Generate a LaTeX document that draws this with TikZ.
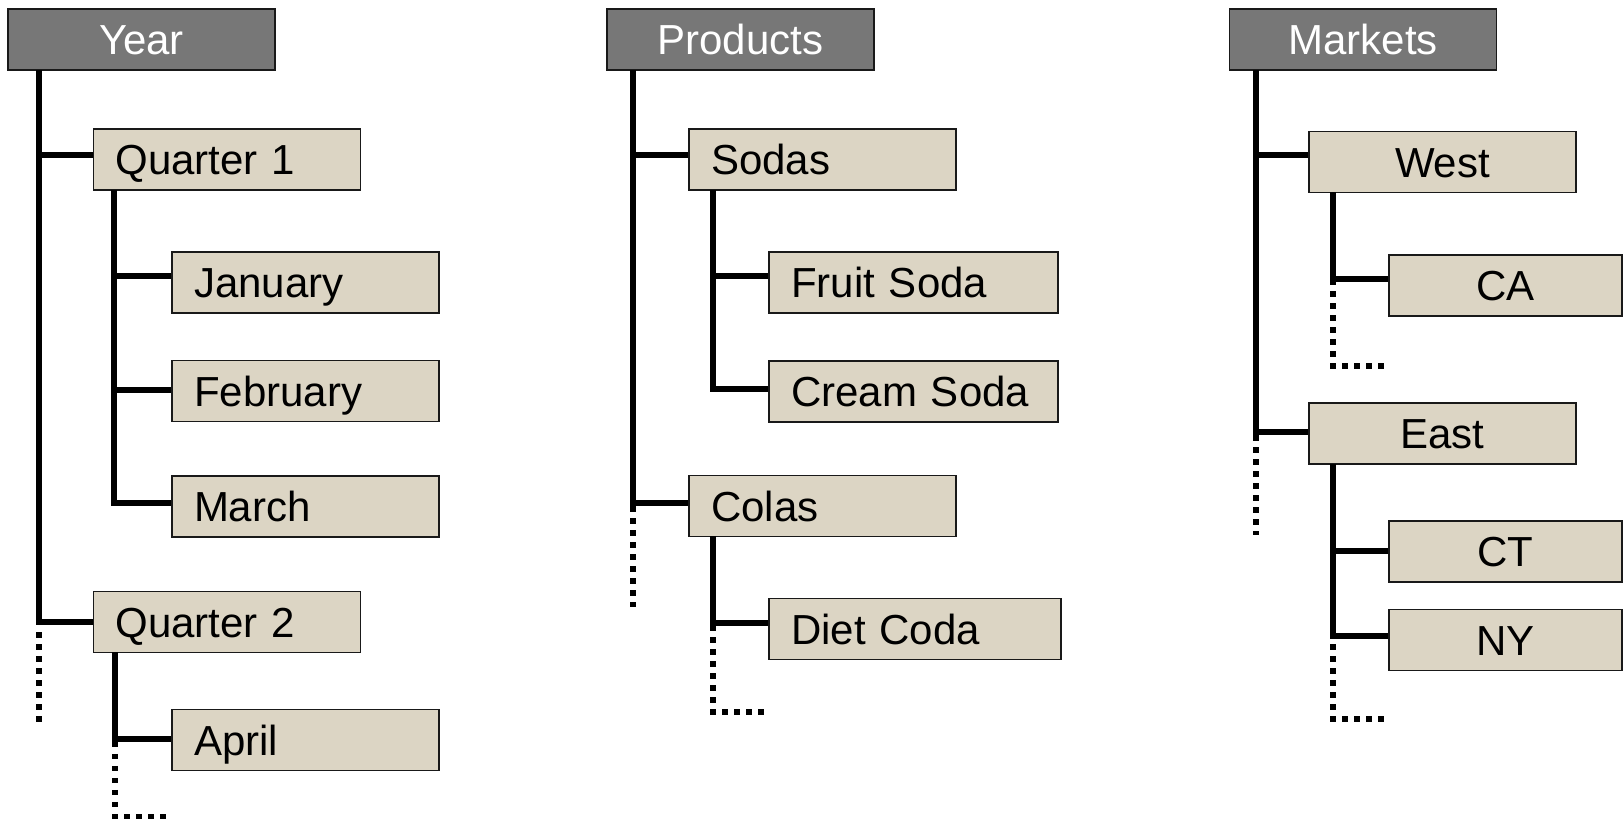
\documentclass[tikz,border=0pt]{standalone}
\usepackage{fontspec}
\setmainfont{Liberation Sans}
\definecolor{hdrgray}{RGB}{119,119,119}
\definecolor{boxtan}{RGB}{220,213,196}
\definecolor{edge}{RGB}{25,25,25}
\begin{document}
\begin{tikzpicture}[x=1pt,y=-1pt,
  base/.style={draw=edge, line width=1.6pt, minimum height=61pt, inner ysep=0pt,
    text height=30pt, text depth=0pt, font=\fontsize{42}{48}\selectfont},
  hdr/.style={base, fill=hdrgray, text=white, minimum width=267pt, inner xsep=0pt},
  lbox/.style={base, fill=boxtan, text width=#1, align=left, inner xsep=22pt},
  cbox/.style={base, fill=boxtan, minimum width=#1, inner xsep=0pt},
  conn/.style={line width=6pt},
  dots/.style={line width=5.5pt, dash pattern=on 5.5pt off 6.5pt}]
\useasboundingbox (0,0) rectangle (1623,820);

% headers
\node[hdr] (year) at (141.5,39.5) {Year};
\node[hdr] (prod) at (740.5,39.5) {Products};
\node[hdr] (mkt) at (1363,39.5) {Markets};

% Year tree
\node[lbox=223pt] (q1) at (227,159.5) {Quarter 1};
\node[lbox=223pt] (jan) at (305.5,282.5) {January};
\node[lbox=223pt] (feb) at (305.5,391) {February};
\node[lbox=223pt] (mar) at (305.5,506.5) {March};
\node[lbox=223pt] (q2) at (227,622) {Quarter 2};
\node[lbox=223pt] (apr) at (305.5,740) {April};

% Products tree
\node[lbox=223pt] (sodas) at (822.5,159.5) {Sodas};
\node[lbox=245pt] (fruit) at (913.5,282.5) {Fruit Soda};
\node[lbox=245pt] (cream) at (913.5,391.5) {Cream Soda};
\node[lbox=223pt] (colas) at (822.5,506) {Colas};
\node[lbox=248pt] (diet) at (915,629) {Diet Coda};

% Markets tree
\node[cbox=267pt] (west) at (1442.5,162) {West};
\node[cbox=233pt] (ca) at (1505.5,285.5) {CA};
\node[cbox=267pt] (east) at (1442.5,433.5) {East};
\node[cbox=233pt] (ct) at (1505.5,551.5) {CT};
\node[cbox=233pt] (ny) at (1505.5,640) {NY};

% trunk tops
\coordinate (yT) at (39,70);
\coordinate (q1T) at (114,190);
\coordinate (q2T) at (115,652);
\coordinate (pT) at (633,70);
\coordinate (sT) at (713,190);
\coordinate (cT) at (713,536);
\coordinate (mT) at (1256,70);
\coordinate (wT) at (1333,192);
\coordinate (eT) at (1333,464);

% solid connectors
\draw[conn] (yT) |- ([yshift=4.5pt]q1.west);
\draw[conn] (yT) |- (q2.west);
\draw[conn] (q1T) |- ([yshift=6.5pt]jan.west);
\draw[conn] (q1T) |- ([yshift=1pt]feb.west);
\draw[conn] (q1T) |- ([yshift=3.5pt]mar.west);
\draw[conn] (q2T) |- ([yshift=1pt]apr.west);

\draw[conn] (pT) |- ([yshift=4.5pt]sodas.west);
\draw[conn] (pT) |- ([yshift=3pt]colas.west);
\draw[conn] (sT) |- ([yshift=6.5pt]fruit.west);
\draw[conn] (sT) |- ([yshift=2.5pt]cream.west);
\draw[conn] (cT) |- ([yshift=6pt]diet.west);

\draw[conn] (mT) |- ([yshift=7pt]west.west);
\draw[conn] (mT) |- ([yshift=1.5pt]east.west);
\draw[conn] (wT) |- ([yshift=6.5pt]ca.west);
\draw[conn] (eT) |- ([yshift=0.5pt]ct.west);
\draw[conn] (eT) |- ([yshift=4pt]ny.west);

% dotted continuations
\coordinate (yDa) at (39,632);      \coordinate (yDb) at (39,722);
\coordinate (q2Da) at (115,741.75); \coordinate (q2Db) at (115,816.5); \coordinate (q2Dc) at (170,816.5);
\coordinate (pDa) at (633,506);     \coordinate (pDb) at (633,607);
\coordinate (cDa) at (713,625.25);  \coordinate (cDb) at (713,712);    \coordinate (cDc) at (764,712);
\coordinate (mDa) at (1256,435);    \coordinate (mDb) at (1256,535);
\coordinate (wDa) at (1333,279.25); \coordinate (wDb) at (1333,366);   \coordinate (wDc) at (1385,366);
\coordinate (eDa) at (1333,632.25); \coordinate (eDb) at (1333,719);   \coordinate (eDc) at (1384,719);

\draw[dots] (yDa) -- (yDb);
\draw[dots] (q2Da) -- (q2Db) -- (q2Dc);
\draw[dots] (pDa) -- (pDb);
\draw[dots] (cDa) -- (cDb) -- (cDc);
\draw[dots] (mDa) -- (mDb);
\draw[dots] (wDa) -- (wDb) -- (wDc);
\draw[dots] (eDa) -- (eDb) -- (eDc);
\end{tikzpicture}
\end{document}
